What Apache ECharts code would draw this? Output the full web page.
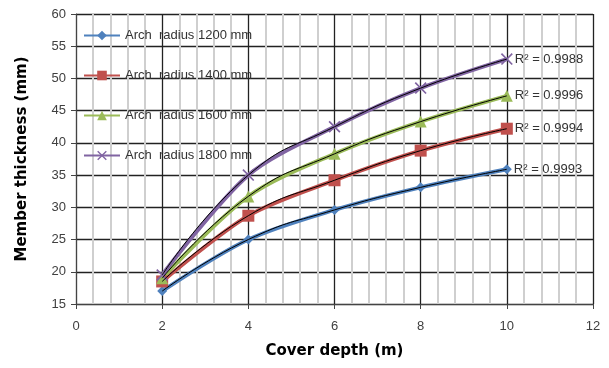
<!DOCTYPE html>
<html>
<head>
<meta charset="utf-8">
<script src="https://cdn.jsdelivr.net/npm/echarts@6/dist/echarts.min.js"></script>
<style>
  html, body { margin: 0; padding: 0; background: #fff; }
  #chart { width: 609px; height: 368px; }
</style>
</head>
<body>
<div id="chart"></div>
<script>
const depths = [2, 4, 6, 8, 10];
const r1200 = [17.0, 25.0, 29.6, 33.1, 35.9];
const r1400 = [18.5, 28.7, 34.2, 38.8, 42.2];
const r1600 = [19.0, 31.7, 38.3, 43.3, 47.3];
const r1800 = [19.5, 35.0, 42.5, 48.5, 53.0];
const names = ["Arch  radius 1200 mm", "Arch  radius 1400 mm", "Arch  radius 1600 mm", "Arch  radius 1800 mm"];
const rSquared = ["0.9993", "0.9994", "0.9996", "0.9988"];

const colors = ["#4f81bd", "#c0504d", "#9bbb59", "#8064a2"];
const symbols = [
  "diamond",
  "rect",
  "triangle",
  "path://M0,1L1,0L5,4L9,0L10,1L6,5L10,9L9,10L5,6L1,10L0,9L4,5Z"
];
const sizes = [10, 12, 12, 12];

const chart = echarts.init(document.getElementById("chart"));

const pairs = (ys, r2) =>
  depths.map((x, i) => {
    const item = { value: [x, ys[i]] };
    if (r2 && i === depths.length - 1) {
      item.label = {
        show: true,
        position: "right",
        distance: 2,
        formatter: "R² = " + r2,
        color: "#333",
        fontSize: 13,
        fontFamily: "Liberation Sans"
      };
    }
    return item;
  });

const all = [r1200, r1400, r1600, r1800];
const series = [];
all.forEach((ys, k) => {
  series.push({
    name: names[k],
    type: "line",
    smooth: 0.3,
    data: pairs(ys, rSquared[k]),
    symbol: symbols[k],
    symbolSize: sizes[k],
    lineStyle: { color: colors[k], width: 4 },
    itemStyle: { color: colors[k] },
    z: 2
  });
});
// thin black trendlines over the coloured lines
all.forEach((ys, k) => {
  series.push({
    type: "line",
    smooth: 0.5,
    data: pairs(ys, null),
    symbol: "none",
    lineStyle: { color: "#000", width: 1 },
    silent: true,
    z: 3
  });
});

chart.setOption({
  animation: false,
  color: colors,
  grid: { left: 76, right: 16, top: 14, bottom: 64 },
  legend: {
    orient: "vertical",
    left: 78,
    top: 24,
    itemGap: 27,
    itemWidth: 36,
    itemHeight: 12,
    data: names,
    textStyle: { color: "#333", fontSize: 13, fontFamily: "Liberation Sans" }
  },
  xAxis: {
    type: "value",
    min: 0,
    max: 12,
    interval: 2,
    name: "Cover depth (m)",
    nameLocation: "middle",
    nameGap: 40,
    nameTextStyle: { color: "#000", fontSize: 15, fontWeight: "bold", fontFamily: "DejaVu Sans" },
    axisLine: { lineStyle: { color: "#444", width: 1 } },
    axisTick: { show: true, length: 5, lineStyle: { color: "#444" } },
    axisLabel: { color: "#404040", fontSize: 13, margin: 16, fontFamily: "Liberation Sans" },
    splitLine: { show: true, lineStyle: { color: "#222", width: 1.3 } },
    minorTick: { show: false, splitNumber: 5 },
    minorSplitLine: { show: true, lineStyle: { color: "#cfcfcf", width: 2 } }
  },
  yAxis: {
    type: "value",
    min: 15,
    max: 60,
    interval: 5,
    name: "Member thickness (mm)",
    nameLocation: "middle",
    nameGap: 46,
    nameTextStyle: { color: "#000", fontSize: 15, fontWeight: "bold", fontFamily: "DejaVu Sans" },
    axisLine: { show: true, lineStyle: { color: "#444", width: 1 } },
    axisTick: { show: true, length: 5, lineStyle: { color: "#444" } },
    axisLabel: { color: "#404040", fontSize: 13, margin: 10, fontFamily: "Liberation Sans" },
    splitLine: { show: true, lineStyle: { color: "#222", width: 1.3 } }
  },
  series: series
});
</script>
</body>
</html>
